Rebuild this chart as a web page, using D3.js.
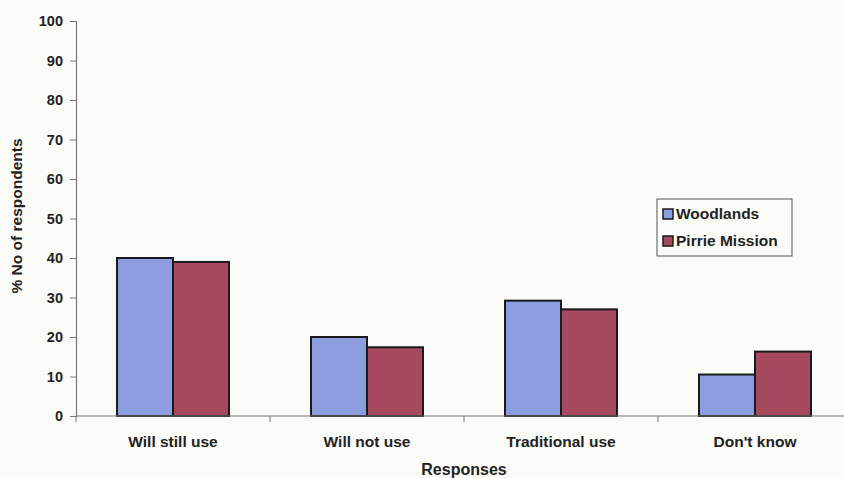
<!DOCTYPE html>
<html>
<head>
<meta charset="utf-8">
<script src="https://cdn.jsdelivr.net/npm/d3@7/dist/d3.min.js"></script>
<style>
  html, body { margin: 0; padding: 0; background: #fbfbf8; }
  svg { display: block; }
  text { font-family: Arial, "Liberation Sans", sans-serif; font-weight: bold; fill: #222; }
</style>
</head>
<body>
<svg id="chart" width="844" height="478"></svg>
<script>
const categories = ["Will still use", "Will not use", "Traditional use", "Don't know"];
const seriesNames = ["Woodlands", "Pirrie Mission"];
const woodlands = [40, 20, 29.2, 10.5];
const pirrieMission = [39, 17.4, 27, 16.3];
const yTicks = [0, 10, 20, 30, 40, 50, 60, 70, 80, 90, 100];
const colors = ["#8e9de0", "#a6495f"];

const svg = d3.select("#chart");
const W = 844, H = 478;
const plot = { left: 76, right: 852, top: 21, bottom: 416 };

const x = d3.scaleBand().domain(categories).range([plot.left, plot.right]).padding(0);
const y = d3.scaleLinear().domain([0, 100]).range([plot.bottom, plot.top]);

// inner scale: two adjacent 56px bars centred in each band
const barW = 56;
const xi = d3.scaleBand().domain(seriesNames)
  .range([x.bandwidth() / 2 - barW, x.bandwidth() / 2 + barW]).padding(0);

const rows = categories.map((c, i) => ({ cat: c, vals: [woodlands[i], pirrieMission[i]] }));

// bars
const g = svg.append("g");
rows.forEach(r => {
  r.vals.forEach((v, k) => {
    g.append("rect")
      .attr("x", x(r.cat) + xi(seriesNames[k]))
      .attr("y", y(v))
      .attr("width", xi.bandwidth())
      .attr("height", y(0) - y(v))
      .attr("fill", colors[k])
      .attr("stroke", "#1a1a1a")
      .attr("stroke-width", 2);
  });
});

// y axis
const yAxis = d3.axisLeft(y).tickValues(yTicks).tickSize(6).tickPadding(7);
const ya = svg.append("g").attr("transform", `translate(${plot.left},0)`).call(yAxis);
ya.select(".domain").attr("stroke", "#777").attr("stroke-width", 1.2);
ya.selectAll(".tick line").attr("stroke", "#777");
ya.selectAll(".tick text").style("font-size", "14.5px").attr("fill", "#222");

// x axis with ticks at category boundaries
const xa = svg.append("g").attr("transform", `translate(0,${plot.bottom})`);
xa.append("line").attr("x1", plot.left).attr("x2", W).attr("y1", 0).attr("y2", 0)
  .attr("stroke", "#777").attr("stroke-width", 1.2);
const boundaries = categories.map(c => x(c)).concat([x(categories[categories.length - 1]) + x.bandwidth()]);
xa.selectAll("line.tk").data(boundaries).enter().append("line").attr("class", "tk")
  .attr("x1", d => d).attr("x2", d => d).attr("y1", 0).attr("y2", 6).attr("stroke", "#777");
xa.selectAll("text.cat").data(categories).enter().append("text").attr("class", "cat")
  .attr("x", d => x(d) + x.bandwidth() / 2).attr("y", 31)
  .attr("text-anchor", "middle").style("font-size", "15.5px").text(d => d);

// axis titles
svg.append("text").attr("x", 464).attr("y", 475).attr("text-anchor", "middle")
  .style("font-size", "16px").text("Responses");
svg.append("text").attr("transform", "translate(22,216) rotate(-90)").attr("text-anchor", "middle")
  .style("font-size", "15.5px").text("% No of respondents");

// legend
const lg = svg.append("g").attr("transform", "translate(657,199)");
lg.append("rect").attr("width", 135).attr("height", 57).attr("fill", "#fbfbf8")
  .attr("stroke", "#555").attr("stroke-width", 1);
seriesNames.forEach((s, k) => {
  const yy = 14 + k * 27;
  lg.append("rect").attr("x", 6).attr("y", yy - 4).attr("width", 10).attr("height", 10)
    .attr("fill", colors[k]).attr("stroke", "#1a1a1a").attr("stroke-width", 1.5);
  lg.append("text").attr("x", 19).attr("y", yy + 5.5).style("font-size", "15.5px").text(s);
});
</script>
</body>
</html>
